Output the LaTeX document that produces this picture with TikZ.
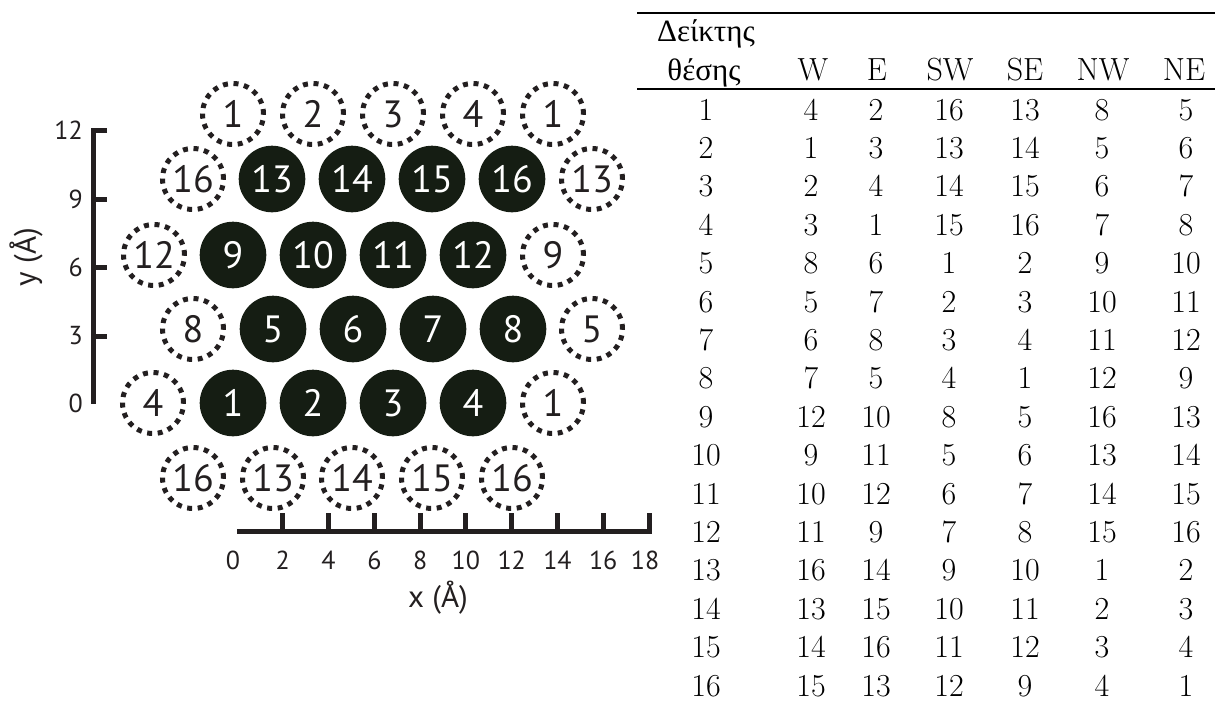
\documentclass[tikz,border=0pt]{standalone}
\usepackage{fontspec}
\setmainfont{Latin Modern Roman}
\newfontfamily\grfont{Liberation Serif}
\newfontfamily\dfont{PT Sans}
\definecolor{fillc}{RGB}{21,29,19}
\definecolor{ink}{RGB}{35,31,32}
\tikzset{
  atom/.style={circle, fill=fillc, minimum size=66.6pt, inner sep=0pt, text=white,
    font=\dfont\fontsize{38}{38}\selectfont},
  ghost/.style={circle, draw=ink, line width=5pt, dash pattern=on 5pt off 5.6pt,
    minimum size=61pt, inner sep=0pt, text=ink, font=\dfont\fontsize{38}{38}\selectfont},
  axisline/.style={draw=ink, line width=5pt, line cap=butt, line join=miter},
  ticklab/.style={text=ink, inner sep=0pt, font=\dfont\fontsize{26}{26}\selectfont},
  axlab/.style={text=ink, inner sep=0pt, font=\dfont\fontsize{31}{31}\selectfont},
  cell/.style={anchor=base, inner sep=0pt, font=\fontsize{32}{38.4}\selectfont},
  grcell/.style={anchor=base, inner sep=0pt, font=\grfont\fontsize{31}{38.4}\selectfont},
}
\begin{document}
\begin{tikzpicture}[x=1pt,y=-1pt]
\useasboundingbox (0,0) rectangle (1215,702);

% ---------- lattice ----------
% top ghost row
\node[ghost] (gT1) at (233,114) {1};
\node[ghost] (gT2) at (313,114) {2};
\node[ghost] (gT3) at (393,114) {3};
\node[ghost] (gT4) at (473,114) {4};
\node[ghost] (gT5) at (553,114) {1};
% row D
\node[ghost] (gD1) at (193,179) {16};
\node[atom] (a13) at (272,179) {13};
\node[atom] (a14) at (352,179) {14};
\node[atom] (a15) at (432,179) {15};
\node[atom] (a16) at (512,179) {16};
\node[ghost] (gD2) at (592,179) {13};
% row C
\node[ghost] (gC1) at (154,255) {12};
\node[atom] (a9) at (233,255) {9};
\node[atom] (a10) at (313,255) {10};
\node[atom] (a11) at (393,255) {11};
\node[atom] (a12) at (473,255) {12};
\node[ghost] (gC2) at (553,255) {9};
% row B
\node[ghost] (gB1) at (193,329) {8};
\node[atom] (a5) at (273,329) {5};
\node[atom] (a6) at (353,329) {6};
\node[atom] (a7) at (433,329) {7};
\node[atom] (a8) at (513,329) {8};
\node[ghost] (gB2) at (592,329) {5};
% row A
\node[ghost] (gA1) at (153,403) {4};
\node[atom] (a1) at (233,403) {1};
\node[atom] (a2) at (313,403) {2};
\node[atom] (a3) at (393,403) {3};
\node[atom] (a4) at (473,403) {4};
\node[ghost] (gA2) at (553,403) {1};
% bottom ghost row
\node[ghost] (gL1) at (193,478) {16};
\node[ghost] (gL2) at (273,478) {13};
\node[ghost] (gL3) at (352,478) {14};
\node[ghost] (gL4) at (432,478) {15};
\node[ghost] (gL5) at (512,478) {16};

% ---------- y axis ----------
\coordinate (ytop) at (93,130);
\coordinate (ybot) at (93,404);
\draw[axisline] (107,130) -- (ytop) -- (ybot);
\foreach \yy in {199,267.5,336}{
  \draw[axisline] (93,\yy) -- (107,\yy);
}
\node[ticklab, anchor=east] (yl12) at (83,130) {12};
\node[ticklab, anchor=east] (yl9) at (83,199) {9};
\node[ticklab, anchor=east] (yl6) at (83,267.5) {6};
\node[ticklab, anchor=east] (yl3) at (83,336) {3};
\node[ticklab, anchor=east] (yl0) at (83,403) {0};
\node[axlab, rotate=90] (ylab) at (26,257) {y (Å)};

% ---------- x axis ----------
\coordinate (xleft) at (237,531);
\coordinate (xright) at (649,531);
\draw[axisline] (xleft) -- (xright) -- (649,513);
\foreach \k in {1,...,8}{
  \draw[axisline] ({237+45.78*\k},531) -- ({237+45.78*\k},513);
}
\node[ticklab] (xl0) at (233,560) {0};
\foreach \k/\lab in {1/2,2/4,3/6,4/8,5/10,6/12,7/14,8/16}{
  \node[ticklab] (xl\lab) at ({237+45.78*\k},560) {\lab};
}
\node[ticklab] (xl18) at (645,560) {18};
\node[axlab] (xlab) at (438,598) {x (Å)};

% ---------- table ----------
\draw[line width=2.2pt] (637,13) -- (1215,13);
\draw[line width=1.6pt] (637,89) -- (1215,89);
\node[grcell] (h0a) at (706,41.6) {Δείκτης};
\node[grcell] (h0b) at (704,80) {θέσης};
\node[cell] (h1) at (813,80) {W};
\node[cell] (h2) at (877,80) {E};
\node[cell] (h3) at (950,80) {SW};
\node[cell] (h4) at (1025,80) {SE};
\node[cell] (h5) at (1103,80) {NW};
\node[cell] (h6) at (1184,80) {NE};
\foreach \r/\a/\b/\c/\d/\e/\f in {
  1/4/2/16/13/8/5, 2/1/3/13/14/5/6, 3/2/4/14/15/6/7, 4/3/1/15/16/7/8,
  5/8/6/1/2/9/10, 6/5/7/2/3/10/11, 7/6/8/3/4/11/12, 8/7/5/4/1/12/9,
  9/12/10/8/5/16/13, 10/9/11/5/6/13/14, 11/10/12/6/7/14/15, 12/11/9/7/8/15/16,
  13/16/14/9/10/1/2, 14/13/15/10/11/2/3, 15/14/16/11/12/3/4, 16/15/13/12/9/4/1}{
  \pgfmathsetmacro\yy{120+38.4*(\r-1)}
  \node[cell] (t\r-0) at (706,\yy) {\r};
  \node[cell] (t\r-1) at (811,\yy) {\a};
  \node[cell] (t\r-2) at (876,\yy) {\b};
  \node[cell] (t\r-3) at (949,\yy) {\c};
  \node[cell] (t\r-4) at (1025,\yy) {\d};
  \node[cell] (t\r-5) at (1102,\yy) {\e};
  \node[cell] (t\r-6) at (1186,\yy) {\f};
}
\end{tikzpicture}
\end{document}
